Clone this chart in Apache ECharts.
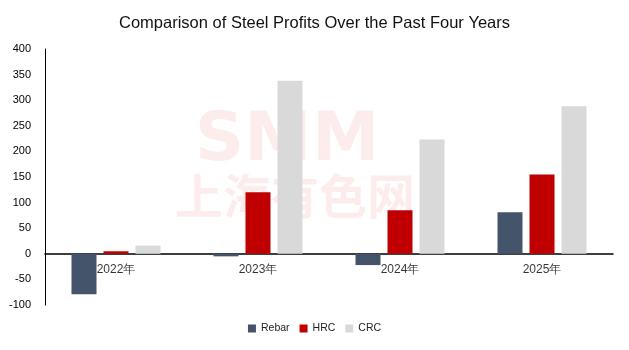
<!DOCTYPE html>
<html>
<head>
<meta charset="utf-8">
<script src="https://cdn.jsdelivr.net/npm/echarts@6/dist/echarts.min.js"></script>
<style>
  html, body { margin: 0; padding: 0; background: #fff; }
  #chart { width: 629px; height: 350px; }
</style>
</head>
<body>
<div id="chart"></div>
<script>
const years = ['2022年', '2023年', '2024年', '2025年']
const rebar = [-79, -5, -22, 81]
const hrc = [5, 120, 85, 155]
const crc = [16, 338, 223, 288]
const yTicks = { min: -100, max: 400, step: 50 }

const chart = echarts.init(document.getElementById('chart'))

const barSeries = (name, data, color) => ({
  name: name,
  type: 'bar',
  data: data,
  barWidth: 25,
  barGap: '28%',
  itemStyle: { color: color }
})

chart.setOption({
  animation: false,
  textStyle: { fontFamily: 'Liberation Sans, sans-serif' },
  title: {
    text: 'Comparison of Steel Profits Over the Past Four Years',
    left: 'center',
    top: 10,
    textStyle: { fontSize: 16.5, fontWeight: 'normal', color: '#111' }
  },
  graphic: [
    {
      type: 'text',
      left: 195,
      top: 108,
      z: 0,
      style: { text: 'SMM', fontSize: 68, fontWeight: 'bold', fill: 'rgba(235,40,40,0.09)', fontFamily: 'DejaVu Sans' }
    },
    {
      type: 'text',
      left: 175,
      top: 172,
      z: 0,
      style: { text: '上海有色网', fontSize: 48, fontWeight: 'bold', fill: 'rgba(235,40,40,0.09)', fontFamily: 'Noto Sans CJK SC' }
    }
  ],
  legend: {
    bottom: 11,
    left: 'center',
    itemWidth: 8,
    itemHeight: 8,
    itemGap: 10,
    icon: 'rect',
    textStyle: { fontSize: 10.5, color: '#222' },
    data: ['Rebar', 'HRC', 'CRC']
  },
  grid: { left: 45, right: 16, top: 49, bottom: 45 },
  xAxis: {
    type: 'category',
    data: years,
    axisLine: { onZero: true, lineStyle: { color: '#000', width: 1.5 } },
    axisTick: { show: false },
    axisLabel: { show: false }
  },
  yAxis: {
    type: 'value',
    min: yTicks.min,
    max: yTicks.max,
    interval: yTicks.step,
    splitLine: { show: false },
    axisLine: { show: true, lineStyle: { color: '#000', width: 1 } },
    axisTick: { show: false },
    axisLabel: { color: '#000', fontSize: 11, margin: 14 }
  },
  series: [
    barSeries('Rebar', rebar, '#44546a'),
    barSeries('HRC', hrc, '#c00000'),
    barSeries('CRC', crc, '#d9d9d9'),
    {
      // category labels sitting just under the zero line
      type: 'scatter',
      data: years.map(y => [y, 0]),
      symbolSize: 0,
      silent: true,
      z: 5,
      label: {
        show: true,
        position: 'bottom',
        distance: 10,
        color: '#000',
        fontSize: 12,
        formatter: p => p.value[0]
      }
    }
  ]
})
</script>
</body>
</html>
